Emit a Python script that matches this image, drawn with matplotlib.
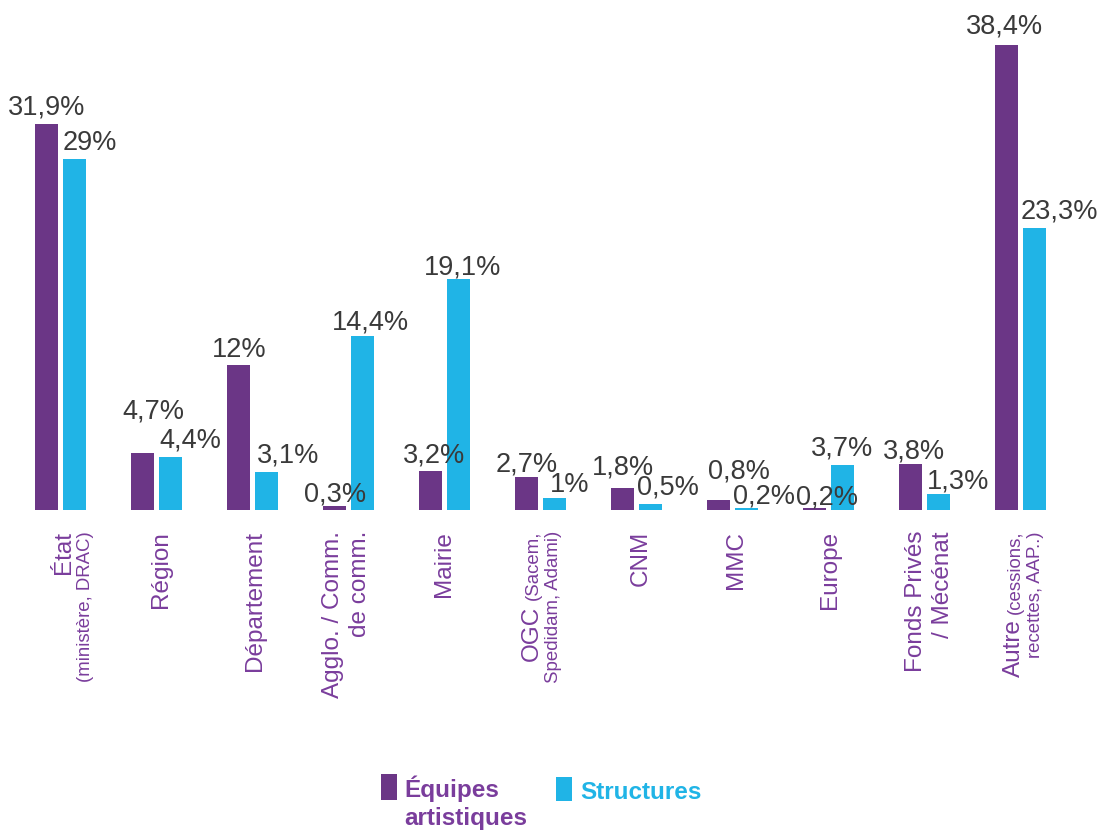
import matplotlib
matplotlib.use("Agg")
import matplotlib.pyplot as plt
from matplotlib.patches import Rectangle
import numpy as np

# ---------------- data ----------------
categories = ["État (ministère, DRAC)", "Région", "Département", "Agglo. / Comm. de comm.",
              "Mairie", "OGC (Sacem, Spedidam, Adami)", "CNM", "MMC", "Europe",
              "Fonds Privés / Mécénat", "Autre (cessions, recettes, AAP..)"]
equipes = [31.9, 4.7, 12, 0.3, 3.2, 2.7, 1.8, 0.8, 0.2, 3.8, 38.4]
structures = [29, 4.4, 3.1, 14.4, 19.1, 1, 0.5, 0.2, 3.7, 1.3, 23.3]
equipes_labels = ["31,9%", "4,7%", "12%", "0,3%", "3,2%", "2,7%", "1,8%", "0,8%", "0,2%", "3,8%", "38,4%"]
structures_labels = ["29%", "4,4%", "3,1%", "14,4%", "19,1%", "1%", "0,5%", "0,2%", "3,7%", "1,3%", "23,3%"]

# tick label lines: (text, "L" large / "S" small)
tick_lines = [
    [[("État", "L")], [("(ministère, DRAC)", "S")]],
    [[("Région", "L")]],
    [[("Département", "L")]],
    [[("Agglo. / Comm.", "L")], [("de comm.", "L")]],
    [[("Mairie", "L")]],
    [[("OGC", "L"), ("(Sacem,", "S")], [("Spedidam, Adami)", "S")]],
    [[("CNM", "L")]],
    [[("MMC", "L")]],
    [[("Europe", "L")]],
    [[("Fonds Privés", "L")], [("/ Mécénat", "L")]],
    [[("Autre", "L"), ("(cessions,", "S")], [("recettes, AAP..)", "S")]],
]
legend_labels = ["Équipes", "artistiques", "Structures"]

# ---------------- style ----------------
PURPLE = "#6b3686"
CYAN = "#20b4e6"
LABEL_PURPLE = "#7a3d9c"
VALUE_COLOR = "#3a3a3a"
W, H = 1108, 832
PT = 72 / 100  # points per pixel

label_base = [9.5, 11, 9, -10, 5, -2.5, 10, 10, 7.5, -2.5, -0.5]  # px, baseline of 1st line
eq_dx = [0, 11, 0, 0, 3, 0, 0, 20, 12, 3, -2]      # px shift of purple value labels
eq_dy = [10, 35, 8, 5, 9, 6, 14, 22, 3, 6, 12]     # px gap above purple bars
st_ha = ["left", "left", "left", "center", "center", "left", "left", "left", "center", "left", "left"]
st_dx = [0, 1, 2, 8, 4, 7, -2, -2, 0, 0, -2]
st_dy = [9, 9, 10, 6, 4, 6, 9, 4, 10, 6, 10]

plt.rcParams["font.family"] = ["Liberation Sans", "DejaVu Sans"]

fig = plt.figure(figsize=(W / 100, H / 100), dpi=100)
ax = fig.add_axes([0, 1 - 510 / H, 1, 510 / H])
spacing = 96.0
c0 = 60.5
ax.set_xlim((0 - c0) / spacing, (W - c0) / spacing)
ax.set_ylim(0, 510 / 12.1)
ax.axis("off")

x = np.arange(len(categories))
bw = 23 / spacing
off = 13.8 / spacing
ax.bar(x - off, equipes, bw, color=PURPLE, linewidth=0)
ax.bar(x + off, structures, bw, color=CYAN, linewidth=0)

val_font = dict(fontsize=19.5, color=VALUE_COLOR)
for i in range(len(categories)):
    ax.annotate(equipes_labels[i], xy=(x[i] - off, equipes[i]), xytext=(eq_dx[i] * PT, eq_dy[i] * PT),
                textcoords="offset points", ha="center", va="baseline", **val_font)
    if st_ha[i] == "left":
        xa = x[i] + off - bw / 2
    else:
        xa = x[i] + off
    ax.annotate(structures_labels[i], xy=(xa, structures[i]), xytext=(st_dx[i] * PT, st_dy[i] * PT),
                textcoords="offset points", ha=st_ha[i], va="baseline", **val_font)

# ---------------- rotated category labels ----------------
renderer = fig.canvas.get_renderer()
sizes = {"L": 17.5, "S": 13.4}
for i, lines in enumerate(tick_lines):
    base = label_base[i]
    for li, line in enumerate(lines):
        ytop = 21
        for seg_text, kind in reversed(line):
            t = ax.annotate(seg_text, xy=(x[i], 0), xycoords=("data", "axes fraction"),
                            xytext=(base * PT, -ytop * PT), textcoords="offset points",
                            rotation=90, rotation_mode="anchor", ha="right", va="baseline",
                            fontsize=sizes[kind], color=LABEL_PURPLE, annotation_clip=False)
            bb = t.get_window_extent(renderer)
            ytop += bb.height + 5
        if li + 1 < len(lines):
            nxt = lines[li + 1]
            base += 27 if all(k == "L" for _, k in nxt) else 20

# ---------------- legend ----------------
def fig_rect(x0, y0, x1, y1, color):
    fig.add_artist(Rectangle((x0 / W, 1 - y1 / H), (x1 - x0) / W, (y1 - y0) / H,
                             transform=fig.transFigure, color=color, linewidth=0))

fig_rect(381, 774, 397, 800, PURPLE)
fig_rect(556, 777, 572, 801, CYAN)
lg = dict(fontsize=17.5, fontweight="bold", va="baseline", ha="left")
fig.text(404 / W, 1 - 797 / H, legend_labels[0], color=LABEL_PURPLE, **lg)
fig.text(404 / W, 1 - 825 / H, legend_labels[1], color=LABEL_PURPLE, **lg)
fig.text(580 / W, 1 - 799 / H, legend_labels[2], color=CYAN, **lg)

fig.savefig("out.png", dpi=100, facecolor="white")
